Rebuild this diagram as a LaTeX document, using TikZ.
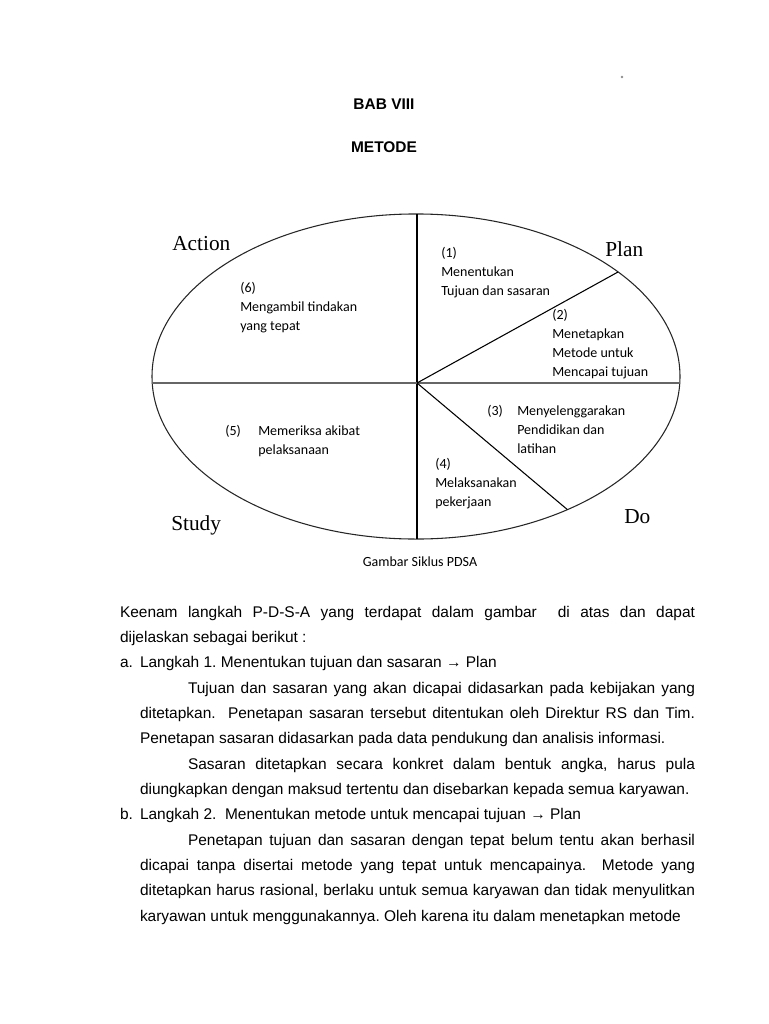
\documentclass[tikz,border=0pt]{standalone}
\usepackage{fontspec}
\setmainfont{Liberation Sans}
\newfontfamily\calfont{Carlito}
\newfontfamily\serfont{Liberation Serif}
\usetikzlibrary{positioning}
\frenchspacing
\hyphenpenalty=10000
\exhyphenpenalty=10000
\tolerance=9999

\begin{document}
\begin{tikzpicture}[x=0.75pt, y=-0.75pt, node distance=0pt]
        \tikzstyle{head} = [inner sep=0, anchor=base, font=\bfseries\fontsize{11.6}{19}\selectfont]
        \tikzstyle{phase} = [inner sep=0, anchor=base west, font=\serfont\fontsize{16}{19}\selectfont]
        \tikzstyle{stepnote} = [inner sep=0, anchor=north west, align=left, font=\calfont\fontsize{10.5}{14.2}\selectfont]
        \tikzstyle{capt} = [inner sep=0, anchor=base, font=\calfont\fontsize{10.5}{14.2}\selectfont]
        \tikzstyle{body} = [inner sep=0, outer sep=0, anchor=north west, text width=431.25pt, align=justify, font=\fontsize{11.6}{19}\selectfont]
        \tikzstyle{subbody} = [body, text width=416.25pt]
        \tikzstyle{rim} = [draw=black!85, line width=0.8pt]
        \tikzstyle{axish} = [draw=black!60, line width=1.4pt]
        \tikzstyle{axisv} = [draw=black, line width=1.1pt]
        \tikzstyle{spoke} = [draw=black, line width=0.8pt]

        \useasboundingbox (0,0) rectangle (768,1024);

        \node [head] (bab) at (384,109.5) {BAB VIII};
        \node [head] (metode) at (384,152.5) {METODE};
        \fill [black!45] (622,77) circle [radius=1.1pt];

        \draw [rim] (416,376.5) ellipse [x radius=198pt, y radius=121.9pt];
        \coordinate (hub) at (417,383);
        \coordinate (ntop) at (417,214);
        \coordinate (nbot) at (417,539);
        \coordinate (nlft) at (152,383);
        \coordinate (nrgt) at (680,383);
        \coordinate (nplan) at (618,272);
        \coordinate (ndo) at (567.4,509.6);

        \draw [axisv] (ntop) -- (nbot);
        \draw [axish] (nlft) -- (nrgt);
        \draw [spoke] (hub) -- (nplan);
        \draw [spoke] (hub) -- (ndo);

        \node [stepnote] (s1) at (441,243.75) {\strut(1)\\Menentukan\\Tujuan dan sasaran};
        \node [stepnote] (s2) at (552,305.75) {\strut(2)\\Menetapkan\\Metode untuk\\Mencapai tujuan};
        \node [stepnote] (s3) at (487,401.75) {\strut\makebox[22.5pt][l]{(3)}Menyelenggarakan\\\hspace*{22.5pt}Pendidikan dan\\\hspace*{22.5pt}latihan};
        \node [stepnote] (s4) at (435,454.75) {\strut(4)\\Melaksanakan\\pekerjaan};
        \node [stepnote] (s5) at (225,421.75) {\strut\makebox[24.75pt][l]{(5)}Memeriksa akibat\\\hspace*{24.75pt}pelaksanaan};
        \node [stepnote] (s6) at (240,278.75) {\strut(6)\\Mengambil tindakan\\yang tepat};

        \node [phase] (act) at (172,250) {Action};
        \node [phase] (plan) at (605,256) {Plan};
        \node [phase] (study) at (171,530) {Study};
        \node [phase] (do) at (624,523) {Do};

        \node [capt] (cap) at (420,566.5) {Gambar Siklus PDSA};

        \node [body] (intro) at (120,599.27) {\noindent\strut Keenam langkah P-D-S-A yang terdapat dalam gambar\ \ di atas dan dapat\linebreak dijelaskan sebagai berikut :\strut};
        \node [body, below=0pt of intro.south west, anchor=north west] (itema) {\noindent\strut\makebox[15pt][l]{a.}Langkah 1. Menentukan tujuan dan sasaran → Plan\strut};
        \node [subbody, below=0pt of itema.south west, anchor=north west, xshift=15pt] (para) {\noindent\strut\hspace*{36pt}Tujuan dan sasaran yang akan dicapai didasarkan pada kebijakan yang\linebreak ditetapkan.\ \ Penetapan sasaran tersebut ditentukan oleh Direktur RS dan Tim.\linebreak Penetapan sasaran didasarkan pada data pendukung dan analisis informasi.\strut};
        \node [subbody, below=0pt of para.south west, anchor=north west] (parb) {\parfillskip=0pt\noindent\strut\hspace*{36pt}Sasaran ditetapkan secara konkret dalam bentuk angka, harus pula\linebreak diungkapkan dengan maksud tertentu dan disebarkan kepada semua karyawan.\strut};
        \node [body, below=0pt of parb.south west, anchor=north west, xshift=-15pt] (itemb) {\noindent\strut\makebox[15pt][l]{b.}Langkah 2.\ \ Menentukan metode untuk mencapai tujuan → Plan\strut};
        \node [subbody, below=0pt of itemb.south west, anchor=north west, xshift=15pt] (parc) {\noindent\strut\hspace*{36pt}Penetapan tujuan dan sasaran dengan tepat belum tentu akan berhasil\linebreak dicapai tanpa disertai metode yang tepat untuk mencapainya.\ \ Metode yang\linebreak ditetapkan harus rasional, berlaku untuk semua karyawan dan tidak menyulitkan\linebreak karyawan untuk menggunakannya. Oleh karena itu dalam menetapkan metode\strut};
\end{tikzpicture}
\end{document}
